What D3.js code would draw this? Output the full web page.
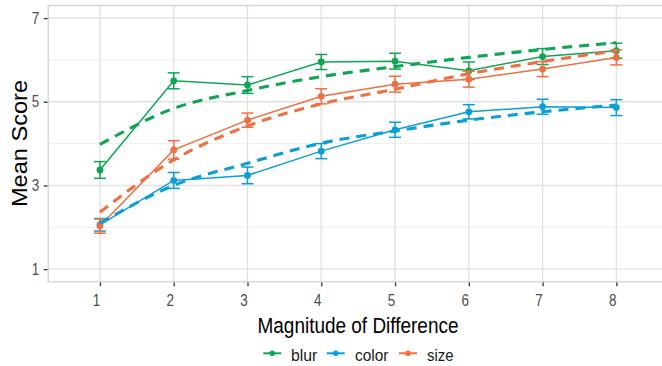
<!DOCTYPE html>
<html>
<head>
<meta charset="utf-8">
<script src="https://cdn.jsdelivr.net/npm/d3@7"></script>
<style>
  html, body { margin: 0; padding: 0; background: #fff; }
  svg { display: block; font-family: "Liberation Sans", Arial, Helvetica, sans-serif; }
</style>
</head>
<body>
<svg id="chart" width="662" height="366"></svg>
<script>
// Magnitude levels on the x axis
const magnitudes = [1, 2, 3, 4, 5, 6, 7, 8];
const yTicks = [1, 3, 5, 7];
const yMinor = [2, 4, 6];

const groups = ["blur", "color", "size"];
const groupColors = ["#10A556", "#0C9ED7", "#EC7043"];

// Observed mean scores and error half-widths
const blurMean  = [3.37, 5.50, 5.40, 5.95, 5.97, 5.74, 6.08, 6.22];
const blurErr   = [0.20, 0.19, 0.20, 0.18, 0.19, 0.21, 0.19, 0.18];
const colorMean = [2.06, 3.12, 3.24, 3.82, 4.33, 4.76, 4.88, 4.86];
const colorErr  = [0.15, 0.19, 0.20, 0.18, 0.18, 0.17, 0.18, 0.19];
const sizeMean  = [2.03, 3.85, 4.56, 5.13, 5.42, 5.54, 5.78, 6.06];
const sizeErr   = [0.17, 0.22, 0.17, 0.18, 0.19, 0.19, 0.18, 0.18];

// Model predictions (dashed)
const blurFit  = [3.98, 4.84, 5.27, 5.60, 5.84, 6.06, 6.25, 6.41];
const colorFit = [2.10, 3.00, 3.53, 4.01, 4.30, 4.56, 4.76, 4.92];
const sizeFit  = [2.36, 3.61, 4.42, 4.95, 5.30, 5.67, 5.96, 6.22];

const meanSets = [blurMean, colorMean, sizeMean];
const errSets  = [blurErr, colorErr, sizeErr];
const fitSets  = [blurFit, colorFit, sizeFit];

const series = groups.map((g, i) => ({
  name: g,
  color: groupColors[i],
  obs: magnitudes.map((m, j) => ({ x: m, y: meanSets[i][j], e: errSets[i][j] })),
  fit: magnitudes.map((m, j) => ({ x: m, y: fitSets[i][j] }))
}));

const svg = d3.select("#chart");
const panel = { left: 48.3, right: 668, top: 5.5, bottom: 281.7 };

const x = d3.scalePoint().domain(magnitudes).range([panel.left, panel.right]).padding(0.7);
const y = d3.scaleLinear().domain([0.7, 7.3]).range([panel.bottom, panel.top]);

const squeeze = 0.84;

// Panel grid
const grid = svg.append("g");
grid.selectAll("line.minor").data(yMinor).join("line")
  .attr("x1", panel.left).attr("x2", panel.right)
  .attr("y1", d => y(d)).attr("y2", d => y(d))
  .attr("stroke", "#EFEFEF").attr("stroke-width", 1);
grid.selectAll("line.majory").data(yTicks).join("line")
  .attr("x1", panel.left).attr("x2", panel.right)
  .attr("y1", d => y(d)).attr("y2", d => y(d))
  .attr("stroke", "#E2E2E2").attr("stroke-width", 1.4);
grid.selectAll("line.majorx").data(magnitudes).join("line")
  .attr("x1", d => x(d)).attr("x2", d => x(d))
  .attr("y1", panel.top).attr("y2", panel.bottom)
  .attr("stroke", "#E2E2E2").attr("stroke-width", 1.4);

// Axes
const yAxis = svg.append("g")
  .attr("transform", `translate(${panel.left},0)`)
  .call(d3.axisLeft(y).tickValues(yTicks).tickSize(4.5).tickPadding(5).tickFormat(d3.format("d")));
yAxis.select(".domain").remove();
yAxis.selectAll(".tick line").attr("stroke", "#333").attr("stroke-width", 1.3);
yAxis.selectAll(".tick text")
  .attr("fill", "#4D4D4D").attr("font-size", 16)
  .attr("transform", `translate(-1,0) scale(${squeeze},1)`);

const xAxis = svg.append("g")
  .attr("transform", `translate(0,${panel.bottom})`)
  .call(d3.axisBottom(x).tickSize(4.5).tickPadding(8));
xAxis.select(".domain").remove();
xAxis.selectAll(".tick line").attr("stroke", "#333").attr("stroke-width", 1.3);
xAxis.selectAll(".tick text")
  .attr("fill", "#4D4D4D").attr("font-size", 16)
  .attr("transform", `translate(-4,0) scale(${squeeze},1)`);

// Panel border
svg.append("rect")
  .attr("x", panel.left).attr("y", panel.top)
  .attr("width", panel.right - panel.left).attr("height", panel.bottom - panel.top)
  .attr("fill", "none").attr("stroke", "#D8D8D8").attr("stroke-width", 1.6);

// Observed series: line, points, error bars
const solid = d3.line().x(d => x(d.x)).y(d => y(d.y));
const dashed = d3.line().x(d => x(d.x)).y(d => y(d.y)).curve(d3.curveMonotoneX);

const marks = svg.append("g");
series.forEach(s => {
  const g = marks.append("g");
  g.append("path").datum(s.obs).attr("d", solid)
    .attr("fill", "none").attr("stroke", s.color).attr("stroke-width", 1.5);
  const eb = g.selectAll("g.eb").data(s.obs).join("g");
  eb.append("line")
    .attr("x1", d => x(d.x)).attr("x2", d => x(d.x))
    .attr("y1", d => y(d.y - d.e)).attr("y2", d => y(d.y + d.e))
    .attr("stroke", s.color).attr("stroke-width", 1.5);
  [-1, 1].forEach(sign => {
    eb.append("line")
      .attr("x1", d => x(d.x) - 6).attr("x2", d => x(d.x) + 6)
      .attr("y1", d => y(d.y + sign * d.e)).attr("y2", d => y(d.y + sign * d.e))
      .attr("stroke", s.color).attr("stroke-width", 1.5);
  });
  g.selectAll("circle").data(s.obs).join("circle")
    .attr("cx", d => x(d.x)).attr("cy", d => y(d.y)).attr("r", 3.4)
    .attr("fill", s.color);
});

// Fitted curves
series.forEach(s => {
  marks.append("path").datum(s.fit).attr("d", dashed)
    .attr("fill", "none").attr("stroke", s.color).attr("stroke-width", 3.1)
    .attr("stroke-dasharray", "10,7").attr("stroke-linecap", "butt");
});

// Axis titles
svg.append("text")
  .attr("x", 358).attr("y", 333)
  .attr("text-anchor", "middle").attr("font-size", 22).attr("fill", "#000")
  .attr("textLength", 201).attr("lengthAdjust", "spacingAndGlyphs")
  .text("Magnitude of Difference");

svg.append("text")
  .attr("transform", "translate(27,143.5) rotate(-90)")
  .attr("text-anchor", "middle").attr("font-size", 22).attr("fill", "#000")
  .attr("textLength", 127).attr("lengthAdjust", "spacingAndGlyphs")
  .text("Mean Score");

// Legend
const legendKeys = [263.3, 326.7, 399];
const legendText = [291, 355, 427];
const legendWidths = [26.3, 33.5, 26.5];
const legend = svg.append("g");
series.forEach((s, i) => {
  const k = legend.append("g");
  k.append("line")
    .attr("x1", legendKeys[i]).attr("x2", legendKeys[i] + 18)
    .attr("y1", 353.3).attr("y2", 353.3)
    .attr("stroke", s.color).attr("stroke-width", 2);
  k.append("circle")
    .attr("cx", legendKeys[i] + 9).attr("cy", 353.3).attr("r", 2.8)
    .attr("fill", s.color);
  k.append("text")
    .attr("x", legendText[i]).attr("y", 360.5)
    .attr("font-size", 17).attr("fill", "#1A1A1A")
    .attr("textLength", legendWidths[i]).attr("lengthAdjust", "spacingAndGlyphs")
    .text(s.name);
});
</script>
</body>
</html>
